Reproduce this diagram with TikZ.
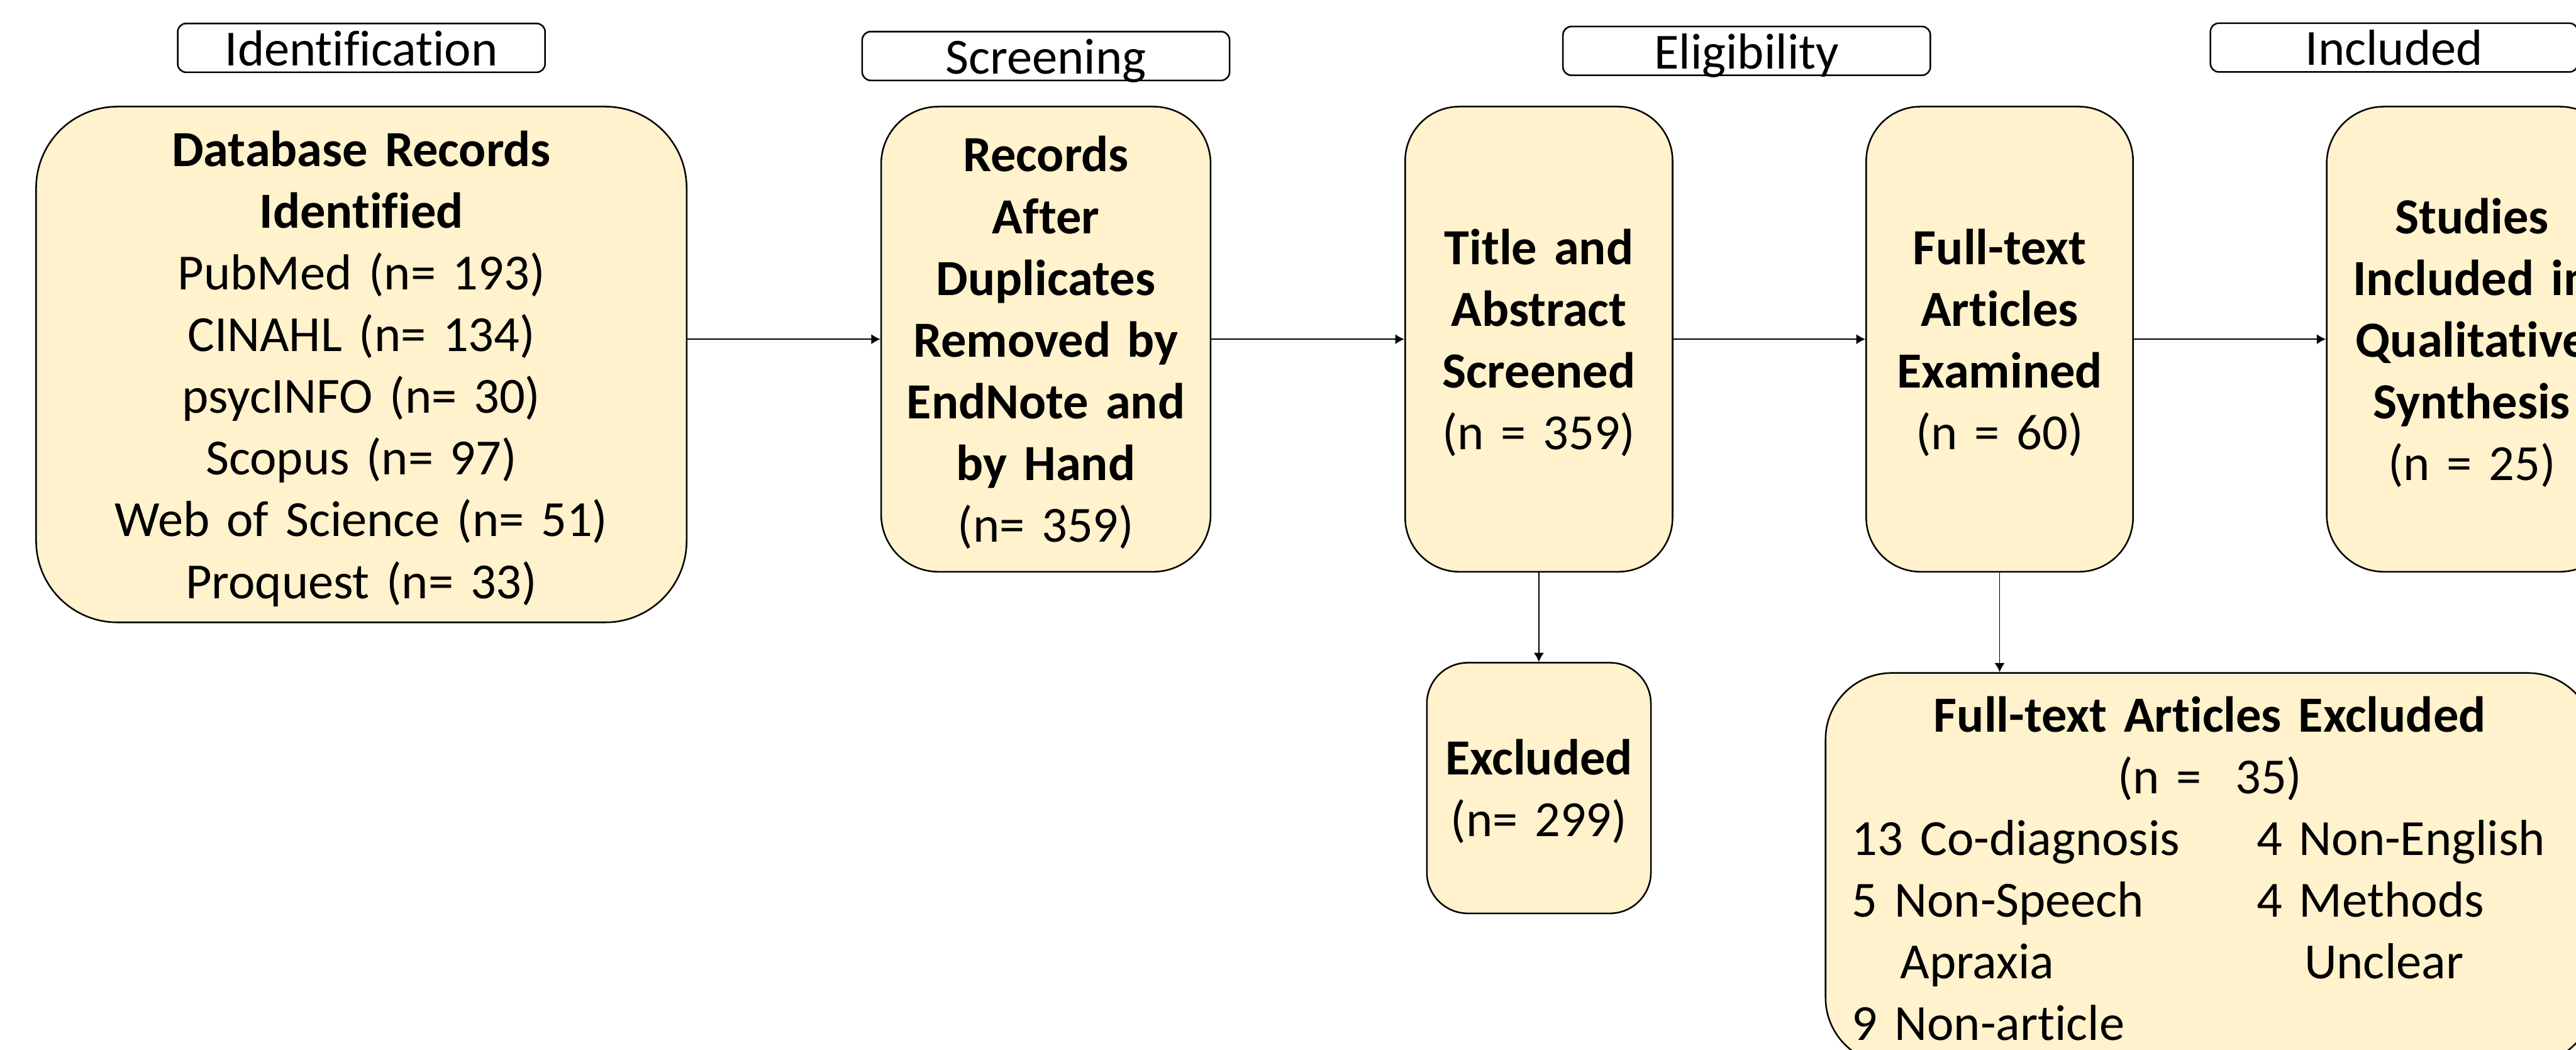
\documentclass[tikz,border=0pt]{standalone}
\usepackage{fontspec}
\setmainfont{Carlito}[Ligatures=NoCommon]
\usetikzlibrary{arrows.meta}
\definecolor{cream}{RGB}{255,242,204}
\newcommand{\boxfont}{\fontsize{23.9pt}{29.16pt}\selectfont}

\begin{document}
\begin{tikzpicture}[
	stage/.style={draw, fill=cream, line width=0.75pt, align=center, inner sep=0pt, font=\boxfont},
	phase/.style={draw, fill=white, line width=0.75pt, rounded corners=4pt, inner sep=0pt, minimum width=6.1cm, text height=0.7cm, text depth=0.11cm, font=\boxfont},
	flow/.style={-{Latex[length=4.3pt,width=4.8pt]}, line width=0.55pt}]
	\useasboundingbox (0,0) rectangle (42.77,17.42);
	\clip (0,0) rectangle (42.77,17.42);
	\node[phase] (idn) at (6.00,16.625) {Identification};
	\node[phase] (scr) at (17.365,16.49) {Screening};
	\node[phase] (elg) at (29.00,16.575) {Eligibility};
	\node[phase] (inc) at (39.75,16.63) {Included};
	\node[stage, minimum width=10.8cm, text width=10.8cm, minimum height=8.56cm, rounded corners=1.35cm, text depth=204.12pt] (db) at (6.00,11.37) {\textbf{Database Records}\\ \textbf{Identified}\\ PubMed (n= 193)\\ CINAHL (n= 134)\\ psycINFO (n= 30)\\ Scopus (n= 97)\\ Web of Science (n= 51)\\ Proquest (n= 33)};
	\node[stage, minimum width=5.47cm, text width=5.47cm, minimum height=7.72cm, rounded corners=0.95cm, text depth=174.96pt] (rec) at (17.365,11.79) {\textbf{Records}\\ \textbf{After}\\ \textbf{Duplicates}\\ \textbf{Removed by}\\ \textbf{EndNote and}\\ \textbf{by Hand}\\ (n= 359)};
	\node[stage, minimum width=4.44cm, text width=4.44cm, minimum height=7.72cm, rounded corners=0.9cm, text depth=87.48pt] (tas) at (25.55,11.79) {\textbf{Title and}\\ \textbf{Abstract}\\ \textbf{Screened}\\ (n = 359)};
	\node[stage, minimum width=4.43cm, text width=4.43cm, minimum height=7.72cm, rounded corners=0.9cm, text depth=87.48pt] (ftx) at (33.2,11.79) {\textbf{Full-text}\\ \textbf{Articles}\\ \textbf{Examined}\\ (n = 60)};
	\node[stage, minimum width=4.82cm, text width=4.82cm, minimum height=7.72cm, rounded corners=0.95cm, text depth=116.64pt] (syn) at (41.04,11.79) {\textbf{Studies}\\ \textbf{Included in}\\ \textbf{Qualitative}\\ \textbf{Synthesis}\\ (n = 25)};
	\node[stage, minimum width=3.72cm, text width=3.72cm, minimum height=4.16cm, rounded corners=0.68cm, text depth=29.16pt] (exc) at (25.55,4.34) {\textbf{Excluded}\\ (n= 299)};
	\node[stage, minimum width=12.76cm, text width=11.88cm, minimum height=6.49cm, rounded corners=1.1cm] (fte) at (36.69,3.005) {\textbf{Full-text Articles Excluded}\\ (n =\ \ 35)\\
		\makebox[6.72cm][l]{13 Co-diagnosis}\makebox[5.16cm][l]{4 Non-English}\\
		\makebox[6.72cm][l]{5 Non-Speech}\makebox[5.16cm][l]{4 Methods}\\
		\makebox[6.72cm][l]{\hspace{0.8cm}Apraxia}\makebox[5.16cm][l]{\hspace{0.79cm}Unclear}\\
		\makebox[11.88cm][l]{9 Non-article}};
	\draw[flow] (db.east |- rec.west) -- (rec.west);
	\draw[flow] (rec.east) -- (tas.west);
	\draw[flow] (tas.east) -- (ftx.west);
	\draw[flow] (ftx.east) -- (syn.west);
	\draw[flow] (tas.south) -- (exc.north);
	\draw[flow] (ftx.south) -- (ftx.south |- fte.north);
\end{tikzpicture}
\end{document}
